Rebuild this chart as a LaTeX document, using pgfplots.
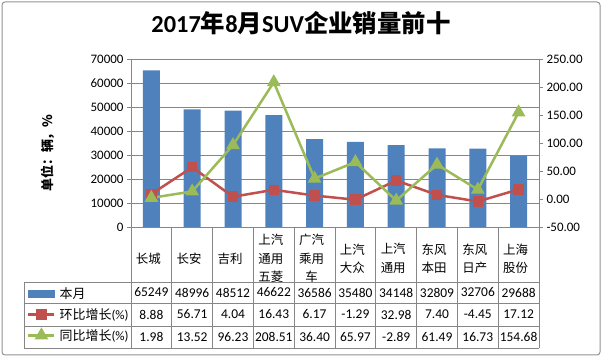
\documentclass[border=0pt]{standalone}
\usepackage{pgfplots}
\pgfplotsset{compat=1.18}
\usepackage{fontspec}
\setmainfont{Carlito}
\newfontfamily\cjk{Noto Sans CJK SC}
\definecolor{barblue}{RGB}{79,129,189}
\definecolor{linered}{RGB}{192,80,77}
\definecolor{linegreen}{RGB}{155,187,89}
\definecolor{gridgray}{RGB}{134,134,134}
\pgfplotsset{longline legend/.style={legend image code/.code={\draw[mark repeat=2,mark phase=2,##1] plot coordinates {(0bp,0bp) (13bp,0bp) (26bp,0bp)};}}}

\begin{document}
\begin{tikzpicture}
\useasboundingbox (0,0) rectangle (602bp,357bp);
\draw[gridgray!90, line width=1bp, rounded corners=3bp] (2bp,2bp) rectangle (600bp,355bp);
\node[font=\fontsize{24.5}{27}\selectfont\bfseries] at (301bp,334bp) {2017{\cjk\bfseries 年}8{\cjk\bfseries 月}SUV{\cjk\bfseries 企业销量前十}};

\begin{axis}[
  at={(131bp,130bp)}, anchor=south west,
  scale only axis, width=408bp, height=168bp,
  xmin=-0.5, xmax=9.5, ymin=0, ymax=70000,
  axis x line*=bottom, axis y line*=left,
  axis line style={gridgray, line width=0.75bp},
  xtick={0,...,9},
  xticklabels={长城,长安,吉利,{上汽\\通用\\五菱},{广汽\\乘用\\车},{上汽\\大众},{上汽\\通用},{东风\\本田},{东风\\日产},{上海\\股份}},
  xticklabel style={font=\cjk\fontsize{12.5}{18.5}\selectfont, align=center, anchor=center, yshift=-27.5bp, xshift=-3bp},
  x tick style={draw=none},
  ytick={0,10000,...,70000},
  scaled y ticks=false,
  y tick label style={font=\fontsize{13}{15}\selectfont, /pgf/number format/1000 sep={}},
  /pgf/number format/assume math mode=true,
  y tick style={gridgray, line width=0.75bp},
  tick align=outside, major tick length=4bp,
  ymajorgrids, grid style={gridgray, line width=0.75bp},
  ylabel={{\cjk\bfseries 单位：辆，\%}},
  ylabel style={at={(axis description cs:-0.203,0.44)}, anchor=center, font=\fontsize{13}{15}\selectfont},
]
\addplot[ybar, bar width=17bp, bar shift=0pt, fill=barblue, draw=none] coordinates {
 (0,65249) (1,48996) (2,48512) (3,46622) (4,36586) (5,35480) (6,34148) (7,32809) (8,32706) (9,29688)};
\end{axis}

\begin{axis}[
  at={(131bp,130bp)}, anchor=south west,
  scale only axis, width=408bp, height=168bp,
  xmin=-0.5, xmax=9.5, ymin=-50, ymax=250,
  axis x line=none, axis y line*=right,
  axis line style={gridgray, line width=0.75bp},
  ytick={-50,0,...,250},
  /pgf/number format/assume math mode=true,
  y tick label style={font=\fontsize{13}{15}\selectfont, /pgf/number format/fixed, /pgf/number format/fixed zerofill, /pgf/number format/precision=2},
  y tick style={gridgray, line width=0.75bp},
  tick align=outside, major tick length=4bp,
  clip=false,
  legend cell align=left,
  legend style={at={(-0.2549,-0.5208)}, anchor=west, draw=none, fill=none, inner sep=0pt,
    row sep=8.5bp, column sep=4bp,
    nodes={inner sep=0pt, font=\fontsize{13}{15}\selectfont}},
]
\addlegendimage{legend image code/.code={\fill[barblue] (0bp,-3.5bp) rectangle (26bp,3.5bp);}}
\addlegendentry{{\cjk 本月}}
\addplot[linered, line width=2.5bp, mark=square*, mark size=4bp, mark options={fill=linered, draw=linered}, longline legend] coordinates {
 (0,8.88) (1,56.71) (2,4.04) (3,16.43) (4,6.17) (5,-1.29) (6,32.98) (7,7.40) (8,-4.45) (9,17.12)};
\addlegendentry{{\cjk 环比增长}(\%)}
\addplot[linegreen, line width=2.5bp, mark=triangle*, mark size=5.5bp, mark options={fill=linegreen, draw=linegreen}, longline legend] coordinates {
 (0,1.98) (1,13.52) (2,96.23) (3,208.51) (4,36.40) (5,65.97) (6,-2.89) (7,61.49) (8,16.73) (9,154.68)};
\addlegendentry{{\cjk 同比增长}(\%)}
\end{axis}

\begin{scope}[x=1bp,y=1bp]
 \foreach \yy in {75,54,31,9} \draw[gridgray, line width=0.75bp] (24,\yy) -- (539,\yy);
 \draw[gridgray, line width=0.75bp] (24,75) -- (24,9);
 \foreach \i in {0,...,10} \draw[gridgray, line width=0.75bp] ({131+40.8*\i},130) -- ({131+40.8*\i},9);
 \foreach \v [count=\i from 0] in {65249,48996,48512,46622,36586,35480,34148,32809,32706,29688}
   \node[font=\fontsize{13.5}{15}\selectfont] at ({131+40.8*(\i+0.5)},64.5) {\v};
 \foreach \v [count=\i from 0] in {8.88,56.71,4.04,16.43,6.17,-1.29,32.98,7.40,-4.45,17.12}
   \node[font=\fontsize{13.5}{15}\selectfont] at ({131+40.8*(\i+0.5)},42.5) {\v};
 \foreach \v [count=\i from 0] in {1.98,13.52,96.23,208.51,36.40,65.97,-2.89,61.49,16.73,154.68}
   \node[font=\fontsize{13.5}{15}\selectfont] at ({131+40.8*(\i+0.5)},20) {\v};
\end{scope}
\end{tikzpicture}
\end{document}
